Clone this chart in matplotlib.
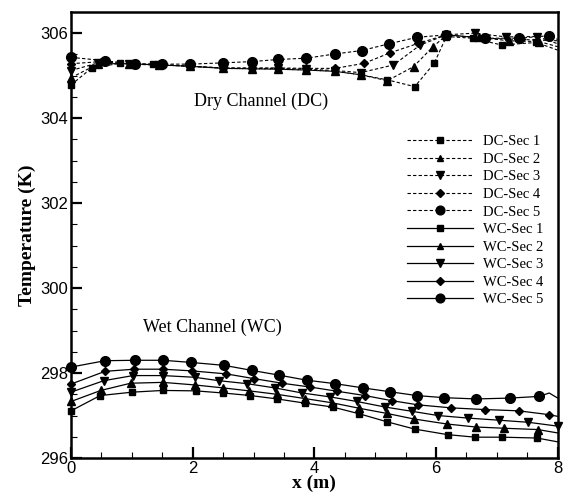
import matplotlib
matplotlib.use("Agg")
import matplotlib.pyplot as plt
from matplotlib.ticker import MultipleLocator

# ---------------- data ----------------
dc1_x = [0, 0.34, 0.81, 1.35, 1.96, 2.5, 2.97, 3.41, 3.87, 4.34, 4.76, 5.2, 5.65, 5.97, 6.17, 6.6, 7.08, 7.65, 8.0]
dc1_y = [304.78, 305.18, 305.29, 305.27, 305.22, 305.17, 305.16, 305.15, 305.13, 305.1, 305.02, 304.9, 304.74, 305.29, 305.92, 305.88, 305.72, 305.78, 305.6]
dc2_x = [0, 0.45, 0.95, 1.45, 1.96, 2.5, 2.97, 3.41, 3.87, 4.34, 4.76, 5.20, 5.63, 5.95, 6.17, 6.7, 7.2, 7.7, 8.0]
dc2_y = [304.95, 305.28, 305.28, 305.25, 305.22, 305.17, 305.16, 305.15, 305.13, 305.1, 305.02, 304.88, 305.21, 305.68, 305.95, 305.9, 305.82, 305.8, 305.68]
dc3_x = [0, 0.45, 0.95, 1.45, 1.96, 2.5, 2.97, 3.41, 3.87, 4.34, 4.76, 5.30, 5.74, 6.17, 6.64, 7.15, 7.66, 8.0]
dc3_y = [305.12, 305.3, 305.27, 305.25, 305.22, 305.18, 305.17, 305.17, 305.15, 305.12, 305.07, 305.25, 305.72, 305.96, 306.0, 305.91, 305.92, 305.75]
dc4_x = [0, 0.5, 1.0, 1.49, 1.96, 2.50, 2.97, 3.41, 3.87, 4.34, 4.82, 5.25, 5.71, 6.17, 6.8, 7.4, 8.0]
dc4_y = [305.28, 305.33, 305.27, 305.25, 305.22, 305.18, 305.18, 305.18, 305.17, 305.17, 305.29, 305.54, 305.76, 305.96, 305.88, 305.85, 305.82]
dc5_x = [0, 0.56, 1.05, 1.49, 1.96, 2.50, 2.97, 3.41, 3.87, 4.34, 4.78, 5.23, 5.68, 6.17, 6.80, 7.37, 7.86, 8.0]
dc5_y = [305.43, 305.35, 305.27, 305.27, 305.27, 305.30, 305.33, 305.38, 305.41, 305.51, 305.59, 305.75, 305.90, 305.96, 305.88, 305.88, 305.94, 305.85]

wc1_x = [0, 0.48, 1.01, 1.51, 2.05, 2.5, 2.95, 3.39, 3.85, 4.3, 4.74, 5.2, 5.65, 6.19, 6.64, 7.09, 7.66, 8.0]
wc1_y = [297.11, 297.47, 297.55, 297.59, 297.58, 297.53, 297.47, 297.39, 297.29, 297.2, 297.04, 296.85, 296.68, 296.55, 296.49, 296.49, 296.47, 296.38]
wc2_x = [0, 0.49, 0.98, 1.51, 2.03, 2.5, 2.93, 3.38, 3.84, 4.29, 4.74, 5.19, 5.63, 6.18, 6.65, 7.12, 7.67, 8.0]
wc2_y = [297.33, 297.59, 297.76, 297.78, 297.72, 297.65, 297.58, 297.5, 297.4, 297.3, 297.17, 297.05, 296.92, 296.8, 296.73, 296.7, 296.67, 296.59]
wc3_x = [0, 0.54, 1.02, 1.51, 2.03, 2.43, 2.89, 3.35, 3.8, 4.25, 4.7, 5.16, 5.6, 6.03, 6.52, 7.03, 7.52, 8.0]
wc3_y = [297.55, 297.82, 297.94, 297.94, 297.9, 297.82, 297.75, 297.65, 297.53, 297.44, 297.33, 297.2, 297.1, 297.0, 296.94, 296.89, 296.84, 296.75]
wc4_x = [0, 0.56, 1.04, 1.51, 1.99, 2.55, 3.0, 3.47, 3.93, 4.38, 4.83, 5.27, 5.71, 6.25, 6.8, 7.36, 7.86, 8.0]
wc4_y = [297.74, 298.04, 298.09, 298.09, 298.05, 297.98, 297.87, 297.76, 297.67, 297.57, 297.47, 297.35, 297.25, 297.18, 297.14, 297.11, 297.02, 296.98]
wc5_x = [0, 0.56, 1.05, 1.51, 1.97, 2.52, 2.98, 3.42, 3.88, 4.34, 4.8, 5.24, 5.68, 6.13, 6.66, 7.21, 7.7, 7.86, 8.0]
wc5_y = [298.14, 298.29, 298.30, 298.30, 298.25, 298.18, 298.06, 297.95, 297.83, 297.75, 297.65, 297.56, 297.47, 297.42, 297.39, 297.41, 297.45, 297.53, 297.41]

dc_labels = ["DC-Sec 1", "DC-Sec 2", "DC-Sec 3", "DC-Sec 4", "DC-Sec 5"]
wc_labels = ["WC-Sec 1", "WC-Sec 2", "WC-Sec 3", "WC-Sec 4", "WC-Sec 5"]
x_ticks = [0, 2, 4, 6, 8]
y_ticks = [296, 298, 300, 302, 304, 306]

# ---------------- plot ----------------
serif = ["Liberation Serif", "DejaVu Serif"]
sans = ["Liberation Sans", "DejaVu Sans"]

fig = plt.figure(figsize=(5.65, 4.99), dpi=100)
ax = fig.add_axes([71 / 565, 1 - 458 / 499, (557.7 - 71) / 565, (458 - 12.3) / 499])

markers = ["s", "^", "v", "D", "o"]
msizes = [5, 5.5, 6, 4.5, 7]

dc_sets = [(dc1_x, dc1_y), (dc2_x, dc2_y), (dc3_x, dc3_y), (dc4_x, dc4_y), (dc5_x, dc5_y)]
wc_sets = [(wc1_x, wc1_y), (wc2_x, wc2_y), (wc3_x, wc3_y), (wc4_x, wc4_y), (wc5_x, wc5_y)]

handles = []
for i, (xs, ys) in enumerate(dc_sets):
    n = len(xs)
    h, = ax.plot(xs, ys, color="black", lw=0.8, ls=(0, (3, 2)),
                 marker=markers[i], ms=msizes[i], markevery=list(range(n - 1)),
                 mfc="black", mec="black", label=dc_labels[i], clip_on=False)
    handles.append(h)
for i, (xs, ys) in enumerate(wc_sets):
    n = len(xs)
    if i == 4:
        me = list(range(n - 2))
    elif i == 2:
        me = list(range(n))
    else:
        me = list(range(n - 1))
    h, = ax.plot(xs, ys, color="black", lw=0.9, ls="-",
                 marker=markers[i], ms=msizes[i], markevery=me,
                 mfc="black", mec="black", label=wc_labels[i], clip_on=False)
    handles.append(h)

ax.set_xlim(0, 8)
ax.set_ylim(296, 306.49)
ax.set_xticks(x_ticks)
ax.set_yticks(y_ticks)
ax.xaxis.set_minor_locator(MultipleLocator(0.5))
ax.yaxis.set_minor_locator(MultipleLocator(0.5))
ax.tick_params(which="major", direction="in", length=8, width=1.6, labelsize=12,
               top=False, right=False, pad=2)
ax.tick_params(which="minor", direction="in", length=4, width=0.8, top=False, right=False)
for lab in ax.get_xticklabels() + ax.get_yticklabels():
    lab.set_family(sans)
for sp in ax.spines.values():
    sp.set_linewidth(1.8)

ax.set_xlabel("x (m)", family=serif, fontweight="bold", fontsize=14, labelpad=-1)
ax.set_ylabel("Temperature (K)", family=serif, fontweight="bold", fontsize=14, labelpad=3)

ax.text(3.12, 304.4, "Dry Channel (DC)", family=serif, fontsize=13, ha="center", va="center")
ax.text(2.33, 299.08, "Wet Channel (WC)", family=serif, fontsize=13, ha="center", va="center")

leg = ax.legend(handles=handles, loc="upper left",
                bbox_to_anchor=(407 / 565, 1 - 135 / 499), bbox_transform=fig.transFigure,
                frameon=False, prop={"family": serif, "size": 10.5},
                handlelength=4.5, handletextpad=0.7, labelspacing=0.3,
                borderpad=0, borderaxespad=0, markerscale=0.9)

fig.savefig("out.png", dpi=100)
